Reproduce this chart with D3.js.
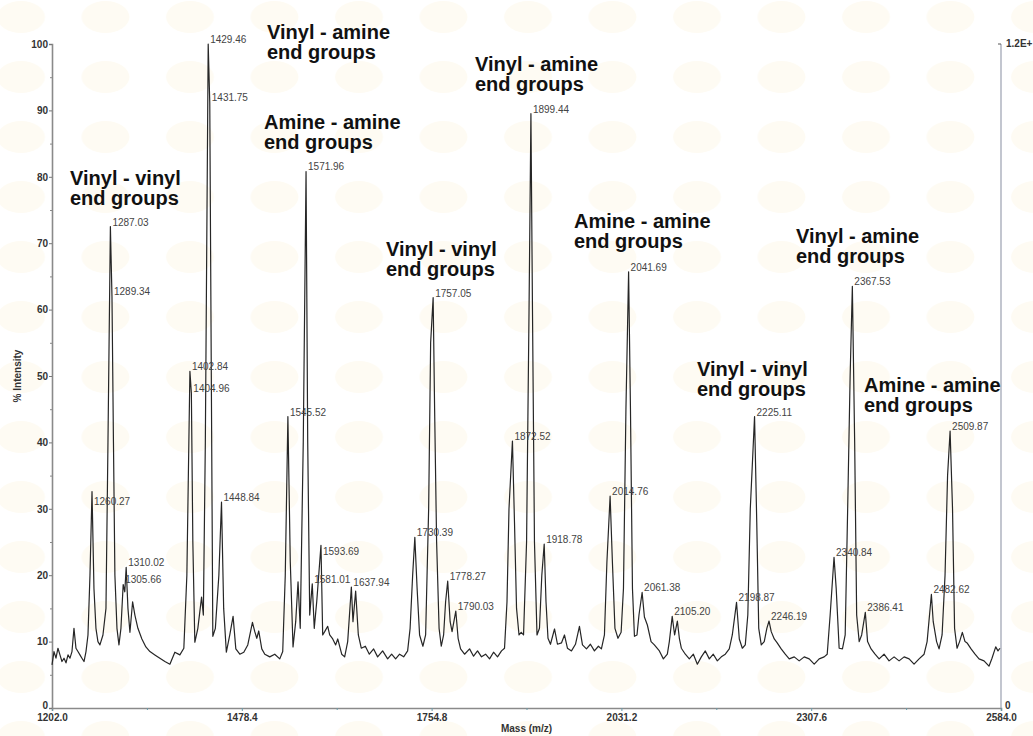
<!DOCTYPE html>
<html>
<head>
<meta charset="utf-8">
<script src="https://cdn.jsdelivr.net/npm/d3@7"></script>
<style>
  html, body { margin: 0; padding: 0; background: #ffffff; }
  svg { display: block; }
  .peak-label { font-family: "Liberation Sans", Arial, sans-serif; font-size: 10px; fill: #444; }
  .tick-label { font-family: "Liberation Sans", Arial, sans-serif; font-size: 10px; font-weight: bold; fill: #333; }
  .group-label { font-family: "Liberation Sans", Arial, sans-serif; font-size: 20px; font-weight: bold; fill: #111; }
</style>
</head>
<body>
<svg id="chart" width="1033" height="736"></svg>
<script>
// ---- Spectrum trace (m/z, % intensity) between labelled peaks ----
const traceMass = [
  1202.0,1204.9,1207.8,1210.7,1213.6,1216.5,1219.5,1222.4,1225.3,1228.2,1231.1,1234.0,1236.9,1239.8,1242.7,1245.6,1248.6,1251.5,1254.4,1257.3,
  1263.1,1266.0,1268.9,1271.8,1276.2,1280.6,1283.5,
  1291.5,1293.6,1296.6,1299.5,1302.4,1308.0,
  1312.6,1315.5,1319.4,1322.7,1327.1,1332.9,1338.7,1344.6,1351.8,1359.1,1366.4,1373.7,1380.9,1388.2,1394.0,1398.4,
  1407.1,1410.0,1414.4,1419.8,1422.4,1425.3,
  1434.0,1436.2,1439.9,1445.0,
  1452.0,1455.9,1460.9,1465.7,1469.7,1475.5,1481.3,1487.1,1493.9,1497.3,1500.2,1503.1,1507.5,1511.9,1519.1,1526.4,1533.7,1538.0,1541.7,
  1549.0,1553.0,1556.9,1560.3,1563.5,1567.9,
  1574.4,1577.3,
  1583.9,1587.5,
  1596.2,1599.1,1603.5,1606.4,1610.8,1615.1,1618.1,1623.9,1628.2,1632.6,
  1640.3,1644.2,1648.1,1652.4,1658.3,1664.1,1670.4,1676.2,1683.5,1690.8,1696.6,1702.4,1708.2,1714.1,1719.9,1723.5,1727.2,
  1733.7,1737.3,1742.1,1746.1,1750.5,1753.4,
  1759.2,1762.1,1765.7,1768.9,1772.3,1775.2,
  1781.8,1784.6,
  1793.4,1797.0,1802.8,1810.1,1815.9,1821.7,1827.5,1833.4,1839.2,1845.0,1850.8,1856.6,1861.0,1864.6,1867.5,
  1875.5,1878.5,1882.1,1885.3,1888.7,1893.1,1896.7,
  1901.7,1904.6,1908.3,1911.9,1915.3,
  1921.4,1924.3,1927.9,1933.8,1938.1,1943.9,1948.3,1952.6,1958.5,1964.3,1970.1,1974.5,1980.3,1986.1,1991.9,1997.7,2002.1,2006.5,2010.1,
  2018.1,2021.8,2026.2,2030.8,2034.2,2037.8,
  2044.4,2047.3,2050.2,2053.9,2056.8,
  2064.7,2069.0,2074.4,2079.2,2086.5,2092.3,2098.1,2101.0,
  2108.7,2112.7,2115.6,2118.5,2124.3,2130.1,2136.0,2141.8,2147.6,2153.4,2159.2,2165.0,2170.9,2176.7,2182.5,2188.3,2192.7,
  2202.9,2207.3,2211.6,2215.3,2218.9,
  2228.3,2231.2,2234.9,2239.2,2243.0,
  2249.4,2253.8,2258.1,2263.9,2269.8,2275.6,2282.9,2290.1,2297.4,2304.7,2312.0,2319.2,2326.5,2330.9,2335.2,
  2344.0,2348.3,2353.1,2357.1,2360.7,2364.3,
  2370.9,2373.8,2377.5,2381.1,
  2389.7,2394.8,2400.6,2406.5,2413.7,2421.0,2428.3,2435.6,2442.9,2450.2,2457.4,2464.7,2472.0,2476.4,
  2485.3,2490.2,2493.8,2498.2,2502.5,2506.2,
  2513.4,2516.4,2520.0,2523.7,2527.7,2531.6,2534.6,2540.4,2546.2,2552.0,2559.3,2566.5,2570.9,2576.3,2579.6,2582.5
];
const traceIntensity = [
  6.5,8.5,7.5,9.0,8.0,7.0,7.5,6.8,8.0,7.5,8.5,12.0,9.0,8.5,8.0,7.5,7.0,8.5,11,20,
  18,12,10,9.5,11,15,40,
  40,20,12,9.5,12,17.5,
  15,11.4,16,14,12,10.4,9.2,8.5,8,7.5,7,6.6,8.4,8,9,20,
  25,9.9,12,16.7,14,40,
  50,10.8,12,20,
  15,8.4,11,13.8,8.9,8.1,8.4,9.5,12.9,11.5,10.5,11.6,8.9,8.1,7.7,8.1,7.4,8.5,20,
  22,9.2,13,19,12,40,
  40,14,
  12,16,
  11,11.5,12.3,11,10.4,9.5,10.4,8.1,7.7,10,
  13,17.6,11,9,9.3,8.1,8.9,7.7,8.6,7.4,8.1,7.4,8.1,7.7,8.6,12,20,
  18,11,9.3,11,30,55,
  45,25,12,9.3,11,16,
  13,11.5,
  10.5,8.9,8.1,8.9,7.8,8.6,7.7,8.1,7.4,8.4,7.7,8.6,9,16,30,
  28,15,11,11.4,11,25,60,
  60,25,11,12,20,
  16,10.5,9.6,11.9,9.6,9.8,11,9,8.6,9.6,12.3,9.5,8.9,9.6,8.6,9.3,8.9,11,22,
  22,12,10.5,11.4,18,45,
  45,18,10.8,11,14,
  13.7,12.5,10,9.5,8.6,7.4,8.1,10,
  11,13.1,10.5,9,8.1,7.4,8.1,6.6,7.7,8.6,7.4,8.1,7.1,7.7,8.1,8.9,11,
  10.4,9,9.5,14,30,
  28,12,9.5,10,12,
  11.5,10.4,9.8,8.9,8.1,7.4,7.7,7.1,7.7,7.4,6.6,7.4,7.7,8.1,14,
  18,9,8.9,11,30,50,
  40,14,10,11,
  10,8.9,8.1,7.4,8.1,7.1,7.7,7.1,7.7,7.4,6.6,7.4,8.1,10,
  13,10,8.9,11,20,35,
  30,12,9,10,11.4,10,9.8,8.9,8.1,7.4,7.1,6.3,7.5,9.2,8.6,9.0
];

// ---- Labelled peaks ----
const peakMass = [
  1260.27,1287.03,1289.34,1305.66,1310.02,1402.84,1404.96,1429.46,1431.75,1448.84,
  1545.52,1571.96,1581.01,1593.69,1637.94,1730.39,1757.05,1778.27,1790.03,
  1872.52,1899.44,1918.78,2014.76,2041.69,2061.38,2105.20,2198.87,2225.11,2246.19,
  2340.84,2367.53,2386.41,2482.62,2509.87
];
const peakIntensity = [
  32.6,72.5,62.0,18.6,21.2,50.7,47.4,100,91.2,31.0,
  43.9,80.8,18.7,24.5,18.2,25.7,61.8,19.1,14.6,
  40.2,89.5,24.7,31.9,65.7,17.4,13.8,15.9,43.9,13.1,
  22.7,63.5,14.4,17.1,41.7
];

// ---- End-group annotations ----
const groupNames = [
  "Vinyl - vinyl", "Vinyl - amine", "Amine - amine",
  "Vinyl - vinyl", "Vinyl - amine", "Amine - amine",
  "Vinyl - vinyl", "Vinyl - amine", "Amine - amine"
];

// ---- Axis ticks ----
const massTicks = [1202.0, 1478.4, 1754.8, 2031.2, 2307.6, 2584.0];
const intensityTicks = [0, 10, 20, 30, 40, 50, 60, 70, 80, 90, 100];

const svg = d3.select("#chart");

const x = d3.scaleLinear().domain([1202.0, 2584.0]).range([52, 1001]);
const y = d3.scaleLinear().domain([0, 100]).range([708, 44]);

// very faint background tiling
const defs = svg.append("defs");
const pat = defs.append("pattern")
  .attr("id", "bgtile").attr("patternUnits", "userSpaceOnUse")
  .attr("width", 84.5).attr("height", 60).attr("x", -21).attr("y", -13);
pat.append("ellipse").attr("cx", 42).attr("cy", 30).attr("rx", 24).attr("ry", 16)
  .attr("fill", "#fefbf3");
svg.append("rect").attr("width", 1033).attr("height", 736).attr("fill", "#ffffff");
svg.append("rect").attr("width", 1033).attr("height", 736).attr("fill", "url(#bgtile)");

// ---- axes ----
const axisColor = "#8a8a8a";

const minorMass = d3.range(massTicks.length - 1).map(i => (massTicks[i] + massTicks[i + 1]) / 2);
const minorIntensity = d3.range(5, 100, 10);

const gx = svg.append("g").attr("transform", `translate(0,${y(0)})`)
  .call(d3.axisBottom(x).tickValues(massTicks).tickSize(3).tickPadding(3)
    .tickFormat(d3.format(".1f")));
gx.select(".domain").attr("stroke", axisColor).attr("stroke-width", 1.6);
gx.selectAll(".tick line").attr("stroke", "#6a9aa8");
gx.selectAll(".tick text").attr("class", "tick-label").attr("font-size", null).attr("font-family", null).attr("fill", null);
svg.append("g").attr("transform", `translate(0,${y(0)})`)
  .call(d3.axisBottom(x).tickValues(minorMass).tickSize(2).tickFormat(""))
  .call(g => g.select(".domain").remove())
  .selectAll("line").attr("stroke", "#6a9aa8");

const gy = svg.append("g").attr("transform", `translate(${x(1202)},0)`)
  .call(d3.axisLeft(y).tickValues(intensityTicks).tickSize(3).tickPadding(1)
    .tickFormat(d3.format("d")));
gy.select(".domain").attr("stroke", axisColor).attr("stroke-width", 1.6);
gy.selectAll(".tick line").attr("stroke", "#777");
gy.selectAll(".tick text").attr("class", "tick-label").attr("font-size", null).attr("font-family", null).attr("fill", null);
// lift the zero label clear of the first mass label
gy.selectAll(".tick").filter(d => d === 0).select("text").attr("dy", "0.05em");
svg.append("g").attr("transform", `translate(${x(1202)},0)`)
  .call(d3.axisLeft(y).tickValues(minorIntensity).tickSize(2).tickFormat(""))
  .call(g => g.select(".domain").remove())
  .selectAll("line").attr("stroke", "#888");

// right-hand absolute intensity scale
const gr = svg.append("g").attr("transform", `translate(${x(2584)},0)`);
gr.append("line").attr("y1", y(100)).attr("y2", y(0))
  .attr("stroke", "#9aa0b0").attr("stroke-width", 1.2);
gr.append("line").attr("x1", -3).attr("x2", 0).attr("y1", y(100)).attr("y2", y(100))
  .attr("stroke", "#555");
gr.append("text").attr("class", "tick-label").attr("x", 5).attr("y", y(100) + 3).text("1.2E+");
gr.append("text").attr("class", "tick-label").attr("x", 4).attr("y", y(0) + 1).text("0");

// axis titles
svg.append("text").attr("class", "tick-label")
  .attr("x", (x(1202) + x(2584)) / 2).attr("y", 732).attr("text-anchor", "middle")
  .attr("font-size", "9px")
  .text("Mass (m/z)");
svg.append("text").attr("class", "tick-label")
  .attr("transform", `translate(21,${y(50)}) rotate(-90)`).attr("text-anchor", "middle")
  .attr("font-size", "8px").attr("font-weight", "normal")
  .text("% Intensity");

// ---- spectrum trace ----
const points = traceMass.map((m, i) => ({ m, v: traceIntensity[i] }))
  .concat(peakMass.map((m, i) => ({ m, v: peakIntensity[i] })))
  .sort((a, b) => a.m - b.m);

const line = d3.line().x(d => x(d.m)).y(d => y(d.v));
svg.append("path").datum(points)
  .attr("d", line)
  .attr("fill", "none")
  .attr("stroke", "#262626")
  .attr("stroke-width", 1.2)
  .attr("stroke-linejoin", "round");

// ---- peak labels ----
const labelShift = { "1260.27": 14, "1593.69": 11 };
svg.append("g").selectAll("text")
  .data(peakMass.map((m, i) => ({ m, v: peakIntensity[i] })))
  .join("text")
  .attr("class", "peak-label")
  .attr("x", d => x(d.m) + 2)
  .attr("y", d => y(d.v) - 1 + (labelShift[d.m.toFixed(2)] || 0))
  .text(d => d.m.toFixed(2));

// ---- end-group annotations (anchor: left x, first baseline) ----
const groupAnchor = [
  [70, 185], [267, 39], [264, 129],
  [386, 256], [475, 71], [574, 228],
  [697, 376], [796, 243], [864, 392]
];
const ann = svg.append("g");
groupNames.forEach((name, i) => {
  const [ax, ay] = groupAnchor[i];
  const t = ann.append("text").attr("class", "group-label").attr("x", ax).attr("y", ay);
  t.append("tspan").attr("x", ax).attr("dy", 0).text(name);
  t.append("tspan").attr("x", ax).attr("dy", 20).text("end groups");
});
</script>
</body>
</html>
